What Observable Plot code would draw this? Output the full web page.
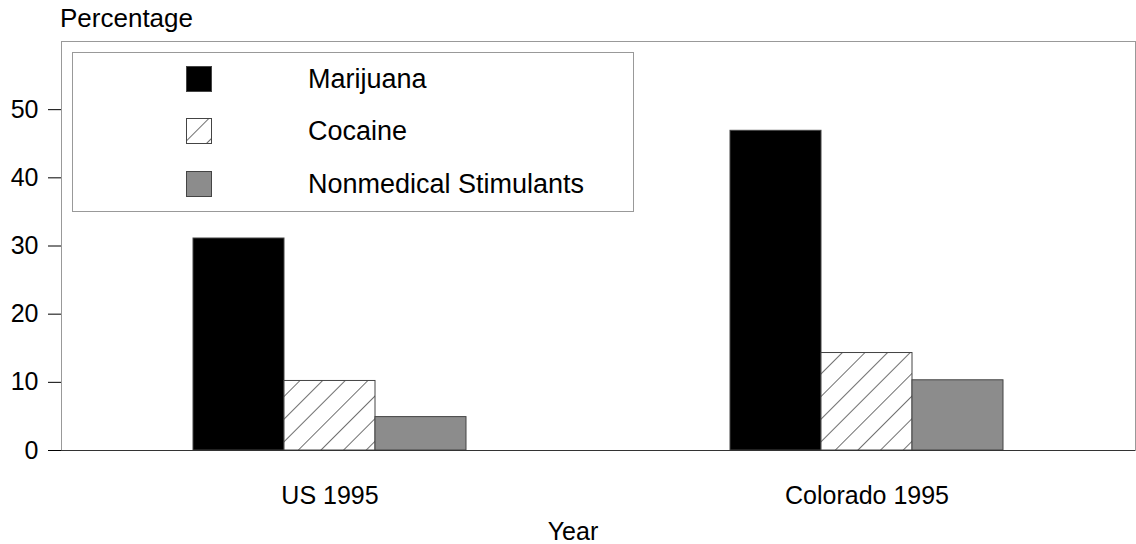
<!DOCTYPE html>
<html><head><meta charset="utf-8">
<script src="https://cdn.jsdelivr.net/npm/d3@7"></script>
<script src="https://cdn.jsdelivr.net/npm/@observablehq/plot@0.6"></script>
<style>
body{margin:0;background:#fff;font-family:"Liberation Sans",Arial,sans-serif;}
#wrap{position:relative;width:1136px;height:544px;}
#ylabel{position:absolute;left:60px;top:3px;font-size:26px;line-height:30px;color:#000;white-space:nowrap;}
#xlabel{position:absolute;left:0;width:1136px;top:516px;text-align:center;font-size:25px;line-height:30px;color:#000;}
#xlabel span{position:relative;left:5px;}
#legend{position:absolute;left:72px;top:52px;width:562px;height:160px;border:1px solid #999;box-sizing:border-box;}
.item{position:absolute;left:113px;height:26px;display:flex;align-items:center;font-size:27px;color:#000;}
.item svg{display:block;}
.item span{position:absolute;left:122px;white-space:nowrap;}
#defs{position:absolute;width:0;height:0;}
</style></head>
<body>
<svg id="defs" aria-hidden="true">
  <defs>
    <pattern id="hatch" patternUnits="userSpaceOnUse" width="16" height="16" patternTransform="rotate(45)">
      <rect width="16" height="16" fill="white"/>
      <line x1="0" y1="0" x2="0" y2="16" stroke="#222" stroke-width="1.3"/>
    </pattern>
  </defs>
</svg>
<div id="wrap"></div>
<script>
const groups = ["US 1995", "Colorado 1995"];
const drugs = ["Marijuana", "Cocaine", "Nonmedical Stimulants"];
const usValues = [31.1, 10.2, 4.9];
const coloradoValues = [46.9, 14.3, 10.3];
const yTicks = [0, 10, 20, 30, 40, 50];
const yLabel = "Percentage";
const xLabel = "Year";
const fills = ["#000000", "url(#hatch)", "#8c8c8c"];

const seriesByGroup = [usValues, coloradoValues];
const data = [];
groups.forEach((g, gi) => drugs.forEach((d, di) => data.push({group: g, drug: d, value: seriesByGroup[gi][di]})));

const chart = Plot.plot({
  width: 1136,
  height: 544,
  marginLeft: 60,
  marginRight: 1,
  marginTop: 41,
  marginBottom: 94,
  style: {fontFamily: "Liberation Sans, Arial, sans-serif", fontSize: "25px", color: "#000", background: "#fff", overflow: "visible"},
  fx: {domain: groups, padding: 0, axis: "bottom", label: null, tickSize: 0, tickPadding: 36},
  x: {domain: drugs, axis: null, paddingInner: 0, paddingOuter: 1.44},
  y: {domain: [0, 60], ticks: yTicks, tickSize: 13, tickPadding: 10, label: null, line: true},
  color: {domain: drugs, range: fills},
  marks: [
    Plot.frame({facet: "super", stroke: "#999"}),
    Plot.barY(data, {fx: "group", x: "drug", y: "value", fill: "drug", stroke: "#444", strokeWidth: 1}),
    Plot.ruleY([0], {stroke: "#333"})
  ]
});
const wrap = document.getElementById("wrap");
wrap.appendChild(chart);

const yl = document.createElement("div");
yl.id = "ylabel";
yl.textContent = yLabel;
wrap.appendChild(yl);

const xl = document.createElement("div");
xl.id = "xlabel";
xl.innerHTML = `<span>${xLabel}</span>`;
wrap.appendChild(xl);

const legend = document.createElement("div");
legend.id = "legend";
const rowTops = [13, 65, 118];
drugs.forEach((d, i) => {
  const item = document.createElement("div");
  item.className = "item";
  item.style.top = rowTops[i] + "px";
  item.innerHTML = `<svg width="26" height="26"><rect x="0.5" y="0.5" width="25" height="25" fill="${fills[i]}" stroke="#444" stroke-width="1"/></svg><span>${d}</span>`;
  legend.appendChild(item);
});
wrap.appendChild(legend);
</script>
</body></html>
